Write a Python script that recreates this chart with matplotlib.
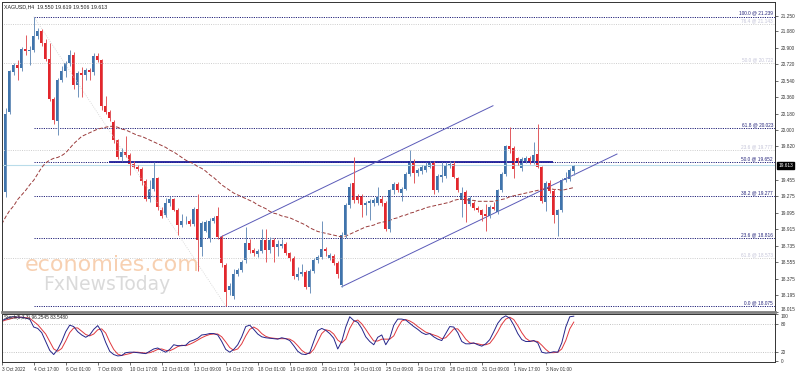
import numpy as np
import matplotlib
matplotlib.use("Agg")
import matplotlib.pyplot as plt
from matplotlib.transforms import blended_transform_factory

plt.rcParams["font.family"] = ["Liberation Sans", "DejaVu Sans"]

# H4 candles, XAGUSD
opens = [19.47, 19.32, 20.20, 20.63, 20.71, 20.68, 20.89, 20.86, 20.88, 21.03,
         21.08, 20.95, 20.78, 20.34, 20.10, 20.55, 20.64, 20.73, 20.82, 20.49,
         20.62, 20.60, 20.66, 20.63, 20.81, 20.76, 20.26, 20.20, 20.09, 19.89,
         19.70, 19.76, 19.73, 19.63, 19.60, 19.57, 19.44, 19.25, 19.36, 19.47,
         19.12, 19.07, 19.20, 19.24, 19.13, 18.96, 19.00, 19.01, 18.97, 19.14,
         18.72, 18.90, 18.82, 19.00, 19.06, 18.83, 18.52, 18.25, 18.18, 18.42,
         18.47, 18.58, 18.76, 18.69, 18.64, 18.68, 18.80, 18.69, 18.80, 18.72,
         18.73, 18.75, 18.66, 18.60, 18.39, 18.42, 18.45, 18.28, 18.46, 18.58,
         18.61, 18.70, 18.60, 18.62, 18.55, 18.31, 18.85, 19.18, 19.42, 19.28,
         19.28, 19.18, 19.20, 19.20, 19.20, 19.25, 19.20, 18.92, 19.34, 19.41,
         19.31, 19.36, 19.52, 19.66, 19.53, 19.55, 19.56, 19.60, 19.64, 19.34,
         19.49, 19.50, 19.61, 19.63, 19.47, 19.23, 19.32, 19.19, 19.20, 19.15,
         19.12, 19.08, 19.06, 19.16, 19.10, 19.34, 19.52, 19.82, 19.80, 19.69,
         19.58, 19.66, 19.69, 19.65, 19.74, 19.59, 19.21, 19.42, 19.33, 19.07,
         19.12, 19.45, 19.46, 19.55]
highs = [19.50, 20.24, 20.66, 20.73, 20.77, 20.91, 21.04, 20.92, 21.239, 21.12,
         21.10, 20.99, 20.95, 20.36, 20.57, 20.70, 20.75, 20.87, 20.85, 20.64,
         20.69, 20.68, 20.68, 20.84, 20.84, 20.78, 20.37, 20.22, 20.11, 19.90,
         19.80, 19.93, 19.75, 19.66, 19.62, 19.59, 19.46, 19.45, 19.65, 19.49,
         19.16, 19.26, 19.28, 19.26, 19.15, 19.08, 19.06, 19.03, 19.16, 19.30,
         19.00, 19.02, 19.04, 19.06, 19.16, 18.85, 18.54, 18.33, 18.48, 18.49,
         18.58, 18.94, 18.81, 18.71, 18.70, 18.92, 18.92, 18.83, 18.82, 18.80,
         18.81, 18.78, 18.67, 18.62, 18.50, 18.53, 18.47, 18.48, 18.60, 18.63,
         19.00, 18.72, 18.66, 18.64, 18.57, 18.88, 19.20, 19.42, 19.70, 19.30,
         19.30, 19.22, 19.24, 19.26, 19.38, 19.28, 19.22, 19.36, 19.43, 19.43,
         19.38, 19.54, 19.78, 19.68, 19.58, 19.62, 19.65, 19.66, 19.66, 19.52,
         19.65, 19.65, 19.66, 19.66, 19.49, 19.38, 19.34, 19.28, 19.22, 19.17,
         19.14, 19.19, 19.18, 19.21, 19.36, 19.54, 19.84, 20.03, 19.82, 19.71,
         19.70, 19.72, 19.72, 19.87, 20.07, 19.61, 19.44, 19.45, 19.35, 19.14,
         19.47, 19.54, 19.58, 19.62]
lows = [19.20, 19.27, 20.17, 20.60, 20.55, 20.65, 20.82, 20.71, 20.85, 21.00,
        20.92, 20.75, 20.32, 20.07, 19.95, 20.53, 20.58, 20.70, 20.45, 20.36,
        20.36, 20.55, 20.55, 20.60, 20.74, 20.22, 20.18, 20.10, 19.86, 19.68,
        19.66, 19.70, 19.51, 19.58, 19.55, 19.40, 19.22, 19.21, 19.33, 19.12,
        19.04, 19.05, 19.17, 19.11, 18.85, 18.94, 18.97, 18.95, 18.95, 18.46,
        18.62, 18.88, 18.78, 18.98, 18.81, 18.50, 18.075, 18.20, 18.15, 18.40,
        18.45, 18.55, 18.66, 18.62, 18.61, 18.66, 18.56, 18.66, 18.56, 18.62,
        18.71, 18.63, 18.57, 18.37, 18.36, 18.40, 18.26, 18.22, 18.44, 18.55,
        18.59, 18.62, 18.58, 18.52, 18.38, 18.286, 18.82, 19.15, 19.20, 19.20,
        19.05, 19.07, 19.02, 19.17, 19.18, 19.17, 18.90, 18.88, 19.30, 19.32,
        19.22, 19.34, 19.50, 19.42, 19.50, 19.52, 19.54, 19.58, 19.30, 19.32,
        19.43, 19.48, 19.58, 19.47, 19.32, 19.05, 18.99, 19.17, 19.13, 19.10,
        19.00, 18.90, 19.04, 19.12, 19.08, 19.32, 19.50, 19.75, 19.47, 19.62,
        19.55, 19.64, 19.63, 19.63, 19.58, 19.20, 19.11, 19.31, 18.98, 18.84,
        19.10, 19.43, 19.44, 19.51]
closes = [19.23, 20.18, 20.64, 20.71, 20.68, 20.89, 20.86, 20.88, 21.03, 21.08,
          20.95, 20.78, 20.34, 20.11, 20.55, 20.64, 20.73, 20.82, 20.49, 20.62,
          20.60, 20.66, 20.63, 20.81, 20.76, 20.26, 20.20, 20.13, 19.89, 19.71,
          19.76, 19.73, 19.63, 19.60, 19.57, 19.44, 19.25, 19.36, 19.47, 19.16,
          19.06, 19.20, 19.24, 19.13, 18.96, 19.00, 19.01, 18.97, 19.14, 18.80,
          18.98, 18.99, 19.01, 19.04, 18.83, 18.54, 18.23, 18.29, 18.43, 18.47,
          18.56, 18.76, 18.69, 18.65, 18.68, 18.80, 18.69, 18.80, 18.72, 18.75,
          18.75, 18.66, 18.60, 18.40, 18.42, 18.45, 18.28, 18.46, 18.58, 18.61,
          18.70, 18.68, 18.63, 18.55, 18.42, 18.85, 19.18, 19.38, 19.23, 19.23,
          19.18, 19.20, 19.22, 19.23, 19.27, 19.20, 18.92, 19.34, 19.41, 19.34,
          19.36, 19.52, 19.66, 19.53, 19.56, 19.59, 19.61, 19.64, 19.34, 19.50,
          19.51, 19.62, 19.63, 19.49, 19.34, 19.31, 19.19, 19.26, 19.15, 19.12,
          19.07, 19.06, 19.16, 19.14, 19.34, 19.52, 19.82, 19.79, 19.57, 19.64,
          19.68, 19.69, 19.65, 19.73, 19.60, 19.22, 19.42, 19.33, 19.07, 19.12,
          19.45, 19.47, 19.56, 19.61]

# moving average (dashed)
ma_values = [18.97, 19.05, 19.12, 19.17, 19.24, 19.29, 19.34, 19.40, 19.45, 19.52,
             19.59, 19.64, 19.67, 19.69, 19.70, 19.72, 19.75, 19.80, 19.85, 19.89,
             19.93, 19.95, 19.97, 19.99, 20.01, 20.02, 20.03, 20.04, 20.04, 20.03,
             20.01, 20.00, 19.98, 19.96, 19.94, 19.93, 19.91, 19.89, 19.87, 19.85,
             19.83, 19.81, 19.78, 19.76, 19.73, 19.70, 19.67, 19.65, 19.63, 19.60,
             19.58, 19.55, 19.51, 19.48, 19.44, 19.40, 19.37, 19.34, 19.31, 19.29,
             19.27, 19.25, 19.23, 19.21, 19.18, 19.16, 19.14, 19.11, 19.09, 19.08,
             19.06, 19.05, 19.04, 19.02, 19.00, 18.98, 18.96, 18.93, 18.91, 18.89,
             18.88, 18.87, 18.86, 18.85, 18.84, 18.83, 18.84, 18.86, 18.88, 18.90,
             18.92, 18.94, 18.95, 18.96, 18.98, 18.99, 19.00, 19.01, 19.03, 19.04,
             19.06, 19.07, 19.09, 19.10, 19.12, 19.13, 19.15, 19.16, 19.17, 19.18,
             19.19, 19.20, 19.21, 19.23, 19.24, 19.24, 19.24, 19.23, 19.23, 19.22,
             19.22, 19.22, 19.22, 19.22, 19.23, 19.24, 19.25, 19.27, 19.28, 19.29,
             19.30, 19.31, 19.32, 19.33, 19.34, 19.35, 19.36, 19.36, 19.35, 19.35,
             19.34, 19.35, 19.36, 19.37]

# stochastic main / signal
stoch_k = [87, 90, 94, 95, 94, 94, 92, 90, 73, 70, 61, 42, 23, 14, 25, 42, 63, 77, 74, 63,
           56, 51, 56, 68, 76, 63, 40, 21, 14, 11, 12, 18, 19, 19, 18, 17, 16, 21, 26, 28,
           23, 19, 25, 35, 33, 33, 34, 42, 45, 49, 56, 57, 59, 59, 56, 42, 25, 19, 25, 35,
           52, 74, 77, 68, 58, 52, 50, 49, 48, 47, 50, 48, 44, 33, 21, 15, 14, 18, 42, 65,
           70, 66, 59, 49, 26, 42, 73, 95, 87, 83, 70, 52, 42, 35, 51, 56, 35, 49, 77, 90,
           90, 88, 81, 74, 68, 61, 57, 59, 52, 47, 44, 59, 74, 73, 61, 42, 37, 37, 39, 35,
           32, 37, 46, 63, 81, 92, 97, 92, 77, 59, 46, 42, 42, 44, 39, 19, 17, 18, 20, 19,
           39, 73, 95, 96.2545]
stoch_d = [85, 88, 90, 93, 94, 94, 93, 92, 85, 78, 68, 58, 42, 26, 21, 27, 43, 61, 71, 71,
           64, 57, 54, 58, 67, 69, 60, 41, 25, 15, 12, 14, 16, 19, 19, 18, 17, 18, 21, 25,
           26, 23, 22, 26, 31, 34, 33, 36, 40, 45, 50, 54, 57, 58, 58, 52, 41, 29, 23, 26,
           37, 54, 68, 73, 68, 59, 53, 50, 49, 48, 48, 48, 47, 42, 33, 23, 17, 16, 25, 42,
           59, 67, 65, 58, 45, 39, 47, 70, 85, 88, 80, 68, 55, 43, 43, 47, 47, 47, 54, 72,
           86, 89, 86, 81, 74, 68, 62, 59, 56, 53, 48, 50, 59, 69, 69, 59, 47, 39, 38, 37,
           35, 35, 38, 49, 63, 79, 90, 94, 89, 76, 61, 49, 43, 43, 42, 34, 25, 18, 18, 19,
           26, 44, 69, 83.548]

time_labels = ["3 Oct 2022", "4 Oct 17:00", "6 Oct 01:00", "7 Oct 09:00", "10 Oct 17:00",
               "12 Oct 01:00", "13 Oct 09:00", "14 Oct 17:00", "18 Oct 01:00", "19 Oct 09:00",
               "20 Oct 17:00", "24 Oct 01:00", "25 Oct 09:00", "26 Oct 17:00", "28 Oct 01:00",
               "31 Oct 09:00", "1 Nov 17:00", "3 Nov 01:00"]

# 19.635 sits under the last-price box, so it is not labelled
price_ticks = [21.250, 21.080, 20.900, 20.720, 20.540, 20.360, 20.180, 20.000, 19.820,
               19.455, 19.275, 19.095, 18.915, 18.735, 18.555, 18.375, 18.195, 18.015]

fib_levels = [21.239, 20.023, 19.652, 19.277, 18.816, 18.075]
fib_labels = ["100.0 @ 21.239", "61.8 @ 20.023", "50.0 @ 19.652", "38.2 @ 19.277",
              "23.6 @ 18.816", "0.0 @ 18.075"]
old_fib_levels = [21.160, 20.735, 19.780, 18.600]
old_fib_labels = ["76.4 @ 21.143", "50.0 @ 20.722", "23.6 @ 19.777", "61.8 @ 18.573"]

last_price = 19.613
ohlc_text = "XAGUSD,H4  19.550 19.619 19.506 19.613"

# drawn objects, in bar / price units
fib_start, fib_end_bar = 8, 56
resist_level, resist_from, resist_to = 19.652, 26.7, 137.8
upper_chan = ([54.75, 122.8], [18.83, 20.265])
lower_chan = ([85.0, 153.8], [18.286, 19.737])

BLUE = "#3F74AC"
RED = "#E3262C"
NAVY = "#23237A"
FS = 3.4

W, H = 798, 372
fig = plt.figure(figsize=(W / 100, H / 100), dpi=100)
ax = fig.add_axes([1.5 / W, (H - 311.5) / H, 773.5 / W, 310 / H])
ax2 = fig.add_axes([1.5 / W, (H - 362) / H, 773.5 / W, 48.5 / H], sharex=ax)

n = len(closes)
idx = np.arange(n)
o = np.array(opens)
c = np.array(closes)
up = c >= o
colors = np.where(up, BLUE, RED)
wick_colors = np.where(up, "#6F93BC", "#E25A5E")

# reference lines first
ax.hlines(old_fib_levels, -1, 200, colors="#C8C8C8", linestyles=(0, (1.2, 1.5)), lw=0.6)
ax.hlines(fib_levels, fib_start, 200, colors=NAVY, linestyles=(0, (1.2, 1.2)), lw=0.7)
ax.plot([fib_start, fib_end_bar], [fib_levels[0], fib_levels[-1]], color="#D8D8D8",
        ls=(0, (1.2, 1.5)), lw=0.6)
ax.axhline(last_price, color="#B9DCEA", lw=0.8)
ax.hlines(resist_level, resist_from, resist_to, colors="#1E1E9A", lw=1.3)
ax.plot(*upper_chan, color="#5A5AB8", lw=0.7)
ax.plot(*lower_chan, color="#5A5AB8", lw=0.7)
ax.plot(idx, ma_values, color="#9A3B3B", lw=0.7, ls=(0, (4, 2)))

# candles
ax.vlines(idx, lows, highs, colors=wick_colors, lw=0.7)
body = np.maximum(np.abs(c - o), 0.01)
ax.bar(idx, body, bottom=np.minimum(o, c), width=0.72, color=colors, linewidth=0)

ax.set_xlim(-0.05, 193.3)
ax.set_ylim(18.015, 21.405)

for lvl, lab in zip(old_fib_levels, old_fib_labels):
    ax.text(192.8, lvl + 0.01, lab, ha="right", va="bottom", fontsize=FS, color="#C4C4D8")
for lvl, lab in zip(fib_levels, fib_labels):
    ax.text(192.8, lvl + 0.01, lab, ha="right", va="bottom", fontsize=FS, color=NAVY)

ax.yaxis.tick_right()
ax.set_yticks(price_ticks)
ax.set_yticklabels([f"{v:.3f}" for v in price_ticks])
ax.tick_params(axis="y", length=2, width=0.5, labelsize=FS, pad=2, colors="#333333")
ax.tick_params(axis="x", bottom=False, labelbottom=False)
# lowest price label sits just above the panel edge
ax.get_yticklabels()[-1].set_va("bottom")
for s in ax.spines.values():
    s.set_color("#333333")
    s.set_linewidth(0.7)
ax.spines["bottom"].set_color("#808080")
ax.spines["bottom"].set_linewidth(2)

tr = blended_transform_factory(ax.transAxes, ax.transData)
ax.text(1.004, last_price, f"{last_price:.3f}", transform=tr, ha="left", va="center",
        fontsize=FS, color="white", bbox=dict(boxstyle="square,pad=0.2", fc="black", ec="black"))

ax.text(0.003, 0.992, ohlc_text, transform=ax.transAxes, ha="left", va="top",
        fontsize=3.8, color="#222222")

# watermark
fig.text(25 / W, 1 - 271 / H, "economies.com", fontsize=16, color="#F6C8A4",
         family="DejaVu Sans", alpha=0.85)
fig.text(43 / W, 1 - 290 / H, "FxNewsToday", fontsize=13.5, color="#D6D6D6",
         family="DejaVu Sans", alpha=0.9)

# stochastic
ax2.axhline(80, color="#BDBDBD", ls=(0, (1.2, 1.5)), lw=0.6)
ax2.axhline(20, color="#BDBDBD", ls=(0, (1.2, 1.5)), lw=0.6)
ax2.plot(idx, stoch_d, color="#E0393E", lw=0.7)
ax2.plot(idx, stoch_k, color="#25258A", lw=0.7)
ax2.set_ylim(-2, 102)
ax2.yaxis.tick_right()
ax2.set_yticks([100, 80, 20, 0])
ax2.set_yticklabels(["100", "80", "20", "0"])
ax2.tick_params(axis="y", length=2, width=0.5, labelsize=FS, pad=2, colors="#333333")
ax2.get_yticklabels()[0].set_va("top")
ax2.set_xticks(np.arange(0, n, 8))
ax2.set_xticklabels(time_labels, ha="left")
ax2.tick_params(axis="x", length=2, width=0.5, labelsize=FS, pad=1.5, colors="#333333")
for s in ax2.spines.values():
    s.set_color("#333333")
    s.set_linewidth(0.7)
ax2.text(0.003, 0.97, f"Stoch(5,3,3) {stoch_k[-1]:.4f} {stoch_d[-1]:.4f}",
         transform=ax2.transAxes, ha="left", va="top", fontsize=FS, color="#222222")

fig.savefig("out.png", dpi=100)
